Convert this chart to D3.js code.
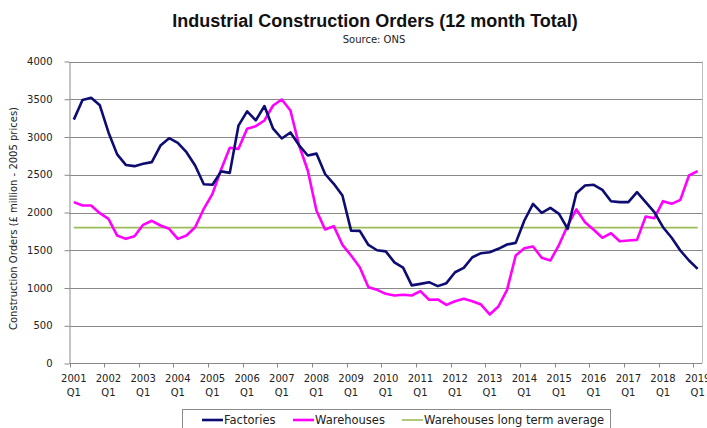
<!DOCTYPE html>
<html>
<head>
<meta charset="utf-8">
<script src="https://cdn.jsdelivr.net/npm/d3@7"></script>
<style>
  body { margin: 0; background: #fff; }
  svg { display: block; font-family: "DejaVu Sans", sans-serif; }
</style>
</head>
<body>
<div id="chart"></div>
<script>
// Quarterly data, 2001 Q1 .. 2019 Q1 (73 quarters)
const startYear = 2001;
const endYear = 2019;

const factories = [
  3230, 3490, 3520, 3420, 3060, 2770, 2630, 2614, 2645, 2667,
  2887, 2984, 2923, 2799, 2623, 2375, 2367, 2545, 2525, 3150,
  3340, 3220, 3410, 3110, 2980, 3060, 2890, 2755, 2780, 2510,
  2380, 2225, 1760, 1757, 1570, 1500, 1485, 1340, 1270, 1035,
  1055, 1077, 1025, 1064, 1209, 1267, 1408, 1461, 1474, 1519,
  1576, 1598, 1894, 2115, 1996, 2062, 1982, 1784, 2256, 2358,
  2367, 2300, 2150, 2137, 2137, 2269, 2137, 2004, 1805, 1665,
  1497, 1364, 1254
];

const warehouses = [
  2137, 2093, 2093, 1991, 1916, 1695, 1651, 1686, 1837, 1890,
  1828, 1784, 1651, 1695, 1805, 2049, 2247, 2570, 2857, 2843,
  3108, 3143, 3219, 3417, 3497, 3351, 2887, 2556, 2026, 1775,
  1819, 1572, 1430, 1276, 1011, 976, 923, 901, 910, 901,
  958, 844, 848, 777, 825, 857, 825, 781, 649, 755,
  976, 1430, 1527, 1550, 1400, 1364, 1572, 1828, 2040, 1872,
  1771, 1665, 1726, 1620, 1629, 1638, 1947, 1925, 2150, 2115,
  2168, 2490, 2547
];

const warehousesAverage = 1800;

const yTicks = [0, 500, 1000, 1500, 2000, 2500, 3000, 3500, 4000];

const seriesInfo = [
  { name: "Factories", values: factories, color: "#0c0c72", width: 2.6 },
  { name: "Warehouses", values: warehouses, color: "#ff00ff", width: 2.6 },
  { name: "Warehouses long term average", values: factories.map(() => warehousesAverage), color: "#9bbb59", width: 1.6 }
];

// Build quarter labels
const quarters = [];
for (let y = startYear; y <= endYear; y++) {
  for (let q = 1; q <= 4; q++) {
    if (y === endYear && q > 1) break;
    quarters.push(y + " Q" + q);
  }
}

const width = 707, height = 428;
const plot = { left: 69.5, right: 702, top: 61.5, bottom: 363.5 };

const svg = d3.select("#chart").append("svg")
  .attr("width", width)
  .attr("height", height);

const x = d3.scaleBand()
  .domain(quarters)
  .range([plot.left, plot.right])
  .paddingInner(0)
  .paddingOuter(0);

const xc = d => x(d) + x.bandwidth() / 2;

const y = d3.scaleLinear()
  .domain([0, 4000])
  .range([plot.bottom, plot.top]);

// Title
svg.append("text")
  .attr("x", 375)
  .attr("y", 27)
  .attr("text-anchor", "middle")
  .style("font-family", "'Liberation Sans', sans-serif")
  .style("font-weight", "bold")
  .style("font-size", "18px")
  .style("fill", "#111")
  .text("Industrial Construction Orders (12 month Total)");

svg.append("text")
  .attr("x", 374)
  .attr("y", 43)
  .attr("text-anchor", "middle")
  .style("font-size", "10px")
  .style("fill", "#222")
  .text("Source: ONS");

// Gridlines
svg.append("g")
  .selectAll("line")
  .data(yTicks.filter(d => d > 0))
  .join("line")
  .attr("x1", plot.left)
  .attr("x2", plot.right)
  .attr("y1", d => Math.round(y(d)) + 0.5)
  .attr("y2", d => Math.round(y(d)) + 0.5)
  .attr("stroke", "#8a8a8a")
  .attr("stroke-width", 1);

// Right border of plot area
svg.append("line")
  .attr("x1", plot.right + 0.5).attr("x2", plot.right + 0.5)
  .attr("y1", plot.top).attr("y2", plot.bottom)
  .attr("stroke", "#bdbdbd");

// Y axis
const yAxis = svg.append("g")
  .attr("transform", `translate(${plot.left},0)`)
  .call(d3.axisLeft(y)
    .tickValues(yTicks)
    .tickFormat(d3.format("d"))
    .tickSize(5)
    .tickPadding(12)
    .tickSizeOuter(0));
yAxis.select(".domain").attr("stroke", "#888");
yAxis.selectAll(".tick line").attr("stroke", "#888");
yAxis.selectAll(".tick text")
  .style("font-family", "'DejaVu Sans', sans-serif")
  .style("font-size", "10px")
  .attr("fill", "#222");

svg.append("text")
  .attr("transform", `translate(17,${(plot.top + plot.bottom) / 2 + 6}) rotate(-90)`)
  .attr("text-anchor", "middle")
  .style("font-size", "10px")
  .style("fill", "#222")
  .text("Construction Orders (£ million - 2005 prices)");

// X axis
svg.append("line")
  .attr("x1", plot.left).attr("x2", plot.right)
  .attr("y1", plot.bottom).attr("y2", plot.bottom)
  .attr("stroke", "#888");

const yearQuarters = quarters.filter(q => q.endsWith("Q1"));

svg.append("g")
  .selectAll("line")
  .data(yearQuarters)
  .join("line")
  .attr("x1", d => Math.round(x(d)) + 0.5)
  .attr("x2", d => Math.round(x(d)) + 0.5)
  .attr("y1", plot.bottom)
  .attr("y2", plot.bottom + 4)
  .attr("stroke", "#888");

const xLabels = svg.append("g")
  .selectAll("text")
  .data(yearQuarters)
  .join("text")
  .attr("text-anchor", "middle")
  .style("font-size", "10px")
  .style("fill", "#222");
xLabels.append("tspan")
  .attr("x", d => xc(d))
  .attr("y", 382)
  .text(d => d.split(" ")[0]);
xLabels.append("tspan")
  .attr("x", d => xc(d))
  .attr("y", 396)
  .text(d => d.split(" ")[1]);

// Lines
const line = d3.line()
  .x((d, i) => xc(quarters[i]))
  .y(d => y(d));

const drawOrder = [seriesInfo[2], seriesInfo[1], seriesInfo[0]];
svg.append("g")
  .selectAll("path")
  .data(drawOrder)
  .join("path")
  .attr("d", d => line(d.values))
  .attr("fill", "none")
  .attr("stroke", d => d.color)
  .attr("stroke-width", d => d.width)
  .attr("stroke-linejoin", "round");

// Legend
const legend = svg.append("g");
legend.append("rect")
  .attr("x", 182.5)
  .attr("y", 409.5)
  .attr("width", 428)
  .attr("height", 30)
  .attr("fill", "#fff")
  .attr("stroke", "#8a8a8a");

const legendX = [202, 293, 402];
const legendItems = legend.selectAll("g.item")
  .data(seriesInfo)
  .join("g")
  .attr("class", "item")
  .attr("transform", (d, i) => `translate(${legendX[i]},0)`);

legendItems.append("line")
  .attr("x1", 0).attr("x2", 21)
  .attr("y1", 420).attr("y2", 420)
  .attr("stroke", d => d.color)
  .attr("stroke-width", d => d.width);

legendItems.append("text")
  .attr("x", 22)
  .attr("y", 424)
  .style("font-size", "11.5px")
  .style("fill", "#222")
  .text(d => d.name);
</script>
</body>
</html>
